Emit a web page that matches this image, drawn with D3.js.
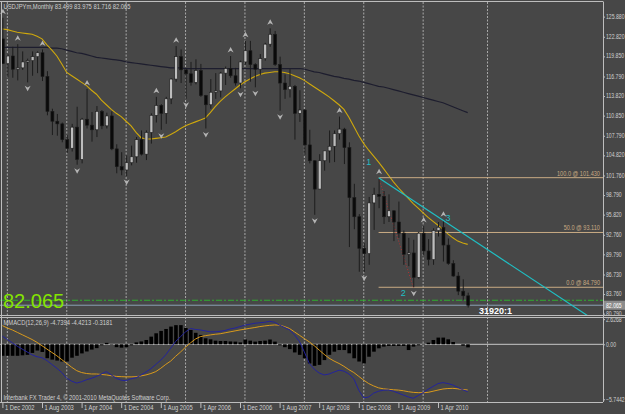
<!DOCTYPE html>
<html><head><meta charset="utf-8">
<script src="https://cdn.jsdelivr.net/npm/d3@7"></script>
<style>
body{margin:0;background:#474747;}
svg text{font-family:"Liberation Sans",Arial,sans-serif;}
</style></head><body>
<svg id="chart" width="625" height="414"></svg>
<script>
// USDJPYm monthly, Dec 2002 .. Oct 2010 (bar 0 = Dec 2002)
var opens = [122.50,
  118.75,119.90,117.90,118.10,119.00,119.20,119.80,120.40,116.80,111.50,110.00,109.60,
  107.20,105.90,109.10,104.20,110.30,109.40,108.70,111.50,109.30,110.80,105.80,103.10,
  102.60,103.70,104.60,107.20,105.00,108.30,110.90,112.40,111.20,113.40,116.40,119.80,
  117.80,117.20,115.90,117.70,113.90,112.50,114.40,114.60,117.30,118.00,116.90,115.80,
  119.00,120.70,118.60,117.90,119.50,121.70,123.20,118.60,115.80,114.80,115.30,111.20,
  111.70,106.40,104.00,99.70,104.00,105.50,106.20,108.10,108.80,106.00,98.40,95.50,
  90.70,89.90,97.60,98.90,98.60,95.50,96.40,94.70,93.00,89.80,90.00,86.30,
  93.00,90.30,89.00,93.40,93.90,91.20,88.40,86.50,84.20,83.499];
var highs = [125.70,
  120.20,121.30,121.70,120.60,119.50,120.60,120.60,120.90,117.60,111.90,111.10,109.80,
  107.90,109.60,112.20,110.50,114.90,111.40,112.30,111.70,111.30,111.50,106.50,105.30,
  104.80,106.30,107.60,108.60,108.60,111.20,113.70,112.60,113.70,116.50,121.40,120.90,
  118.00,119.00,119.40,118.70,114.00,116.40,117.30,117.50,118.30,119.90,118.10,119.20,
  122.20,122.20,118.80,120.20,121.90,124.10,123.70,119.80,117.10,117.90,115.50,114.70,
  111.80,108.70,104.10,105.00,105.50,108.60,108.60,110.70,109.00,106.80,100.50,95.90,
  91.50,98.50,99.90,101.43,99.40,98.90,96.50,97.80,93.40,92.30,92.00,93.20,
  94.10,92.10,93.75,94.70,94.98,92.20,88.90,87.10,86.00,83.975];
var lows = [118.70,
  116.65,116.60,116.20,117.80,115.90,116.90,117.30,116.10,110.90,107.90,107.80,106.80,
  105.20,105.40,103.40,103.60,108.90,106.90,107.60,108.80,108.90,105.60,102.10,101.80,
  101.68,103.30,103.70,104.80,104.10,106.60,109.80,108.70,109.60,112.60,116.00,115.80,
  113.40,115.40,115.60,113.70,108.90,111.90,113.40,113.60,115.50,116.60,115.40,115.00,
  118.60,116.00,115.15,117.00,119.20,121.30,118.40,111.60,113.40,113.60,107.20,109.90,
  104.90,103.60,95.80,99.70,102.50,103.70,103.80,107.20,103.50,90.90,93.60,87.15,
  87.10,88.20,93.50,96.80,94.40,94.70,91.80,92.30,88.20,88.00,84.80,86.10,
  89.60,88.10,88.20,92.50,88.70,88.20,86.40,83.60,82.90,81.716];
var closes = [118.75,
  119.90,117.90,118.10,119.00,119.20,119.80,120.40,116.80,111.50,110.00,109.60,107.20,
  105.90,109.10,104.20,110.30,109.40,108.70,111.50,109.30,110.80,105.80,103.10,102.60,
  103.70,104.60,107.20,105.00,108.30,110.90,112.40,111.20,113.40,116.40,119.80,117.80,
  117.20,115.90,117.70,113.90,112.50,114.40,114.60,117.30,118.00,116.90,115.80,119.00,
  120.70,118.60,117.90,119.50,121.70,123.20,118.60,115.80,114.80,115.30,111.20,111.70,
  106.40,104.00,99.70,104.00,105.50,106.20,108.10,108.80,106.00,98.40,95.50,90.70,
  89.90,97.60,98.90,98.60,95.50,96.40,94.70,93.00,89.80,90.00,86.30,93.00,
  90.30,89.00,93.40,93.90,91.20,88.40,86.50,84.20,83.50,82.065];

// moving averages
var maFast = [124.0,
  123.9,123.7,123.5,123.4,123.3,123.2,122.9,122.5,121.6,120.8,119.9,118.7,
  117.4,116.9,116.4,115.9,115.4,114.7,114.1,113.2,112.5,111.8,111.2,110.7,
  110.0,109.3,108.3,107.5,107.3,107.3,107.4,107.5,107.6,108.0,108.4,108.9,
  109.3,109.6,109.9,110.2,110.5,111.3,112.2,113.0,113.7,114.3,114.9,115.5,
  116.0,116.4,116.8,117.1,117.3,117.4,117.5,117.5,117.4,117.2,116.9,116.6,
  116.2,115.7,115.2,114.7,114.2,113.7,113.1,112.5,111.8,110.6,109.2,107.8,
  106.6,105.6,104.7,103.8,102.8,101.8,100.8,99.9,99.1,98.3,97.5,96.8,
  96.1,95.4,94.8,94.2,93.6,92.9,92.3,91.8,91.5,91.3];
var maSlow = [121.2,
  121.2,121.2,121.2,121.2,121.2,121.2,121.2,121.2,121.2,121.1,121.1,121.0,
  120.8,120.6,120.4,120.3,120.1,119.9,119.7,119.6,119.5,119.4,119.3,119.2,
  119.0,118.9,118.8,118.7,118.6,118.5,118.4,118.3,118.2,118.1,118.1,118.1,
  118.0,118.0,118.0,118.0,118.0,118.0,118.0,118.0,118.0,118.0,118.0,118.0,
  118.0,118.0,118.0,118.0,118.0,118.0,118.0,118.0,118.0,118.0,118.0,118.0,
  117.9,117.7,117.5,117.4,117.2,117.0,116.8,116.7,116.5,116.4,116.2,116.1,
  115.9,115.7,115.5,115.3,115.2,115.0,114.8,114.6,114.4,114.2,114.0,113.8,
  113.6,113.4,113.2,113.0,112.8,112.5,112.2,111.9,111.6,111.3];

// MMACD(12,26,9) window
var macdMain = [0.85,
  0.50,0.15,-0.20,-0.50,-0.80,-1.10,-1.30,-1.40,-1.70,-2.10,-2.50,-2.95,
  -3.55,-3.85,-4.05,-3.90,-3.70,-3.55,-3.35,-3.10,-2.85,-3.20,-3.55,-3.75,
  -3.80,-3.60,-3.50,-3.20,-2.90,-2.55,-2.10,-1.65,-1.10,-0.40,0.30,0.80,
  1.30,1.65,1.55,1.50,1.40,1.30,1.30,1.35,1.45,1.60,1.70,1.85,
  2.00,2.10,2.20,2.25,2.30,2.40,2.30,2.00,1.75,1.50,1.00,0.30,
  -0.80,-2.00,-2.60,-3.00,-3.20,-3.10,-2.90,-2.70,-2.80,-3.10,-3.60,-4.80,
  -5.60,-5.50,-5.10,-4.90,-4.80,-4.77,-4.90,-5.10,-5.30,-5.50,-5.64,-5.35,
  -5.05,-4.70,-4.40,-4.10,-4.00,-4.10,-4.25,-4.50,-4.75,-4.95];
var macdSignal = [1.95,
  1.70,1.50,1.25,1.00,0.75,0.50,0.20,-0.15,-0.50,-0.85,-1.20,-1.60,
  -2.00,-2.40,-2.75,-2.95,-3.05,-3.10,-3.10,-3.15,-3.20,-3.28,-3.35,-3.38,
  -3.40,-3.40,-3.38,-3.30,-3.20,-3.05,-2.85,-2.50,-2.10,-1.75,-1.25,-0.80,
  -0.30,0.15,0.55,0.80,0.90,0.98,1.05,1.10,1.20,1.30,1.40,1.50,
  1.58,1.67,1.75,1.85,1.92,1.98,2.02,2.00,1.85,1.65,1.30,0.95,
  0.60,0.25,-0.15,-0.60,-1.05,-1.45,-1.75,-2.00,-2.30,-2.65,-2.95,-3.35,
  -3.75,-4.10,-4.35,-4.55,-4.65,-4.70,-4.75,-4.78,-4.85,-4.95,-5.02,-5.05,
  -5.05,-5.02,-4.90,-4.78,-4.67,-4.62,-4.60,-4.65,-4.72,-4.77];
var macdHist = [-1.20,
  -1.20,-1.20,-1.20,-1.15,-1.10,-0.90,-0.65,-0.80,-1.45,-1.60,-1.70,-1.80,
  -1.80,-1.40,-1.20,-0.95,-0.75,-0.55,-0.40,-0.10,0.15,-0.05,-0.30,-0.35,
  -0.30,-0.10,0.20,0.30,0.45,0.80,1.15,1.40,1.60,1.85,2.00,2.00,
  1.70,1.50,1.20,0.98,0.63,0.52,0.38,0.35,0.35,0.30,0.28,0.20,
  0.50,0.38,0.28,0.35,0.38,0.50,0.28,-0.10,-0.30,-0.50,-0.85,-1.10,
  -1.45,-2.00,-2.25,-2.15,-1.65,-1.10,-0.77,-0.60,-0.60,-0.94,-1.46,-1.80,
  -2.00,-1.30,-0.77,-0.42,-0.24,-0.17,-0.17,-0.17,-0.17,-0.60,-0.24,-0.10,
  -0.05,0.17,0.45,0.70,0.70,0.52,0.24,0.00,-0.14,-0.32];

var fractalUp = [0, 3, 8, 17, 31, 35, 46, 49, 54, 68, 76, 85, 89];
var fractalDown = [5, 15, 25, 32, 37, 41, 48, 51, 56, 63, 73, 83];

var priceTicks = [125.88,122.82,119.85,116.79,113.82,110.85,107.79,104.82,101.76,98.79,95.82,92.76,89.79,86.73,83.76,80.79];
var dateBars = [0, 8, 16, 24, 32, 40, 48, 56, 64, 72, 80, 88];
var dateLabels = ["1 Dec 2002","1 Aug 2003","1 Apr 2004","1 Dec 2004","1 Aug 2005","1 Apr 2006",
  "1 Dec 2006","1 Aug 2007","1 Apr 2008","1 Dec 2008","1 Aug 2009","1 Apr 2010"];
var gridBars = [1, 13, 25, 37, 49, 61, 73, 85, 98];

var fibLevels = [101.43, 93.11, 84.79];
var fibLabels = ["100.0 @ 101.430", "50.0 @ 93.110", "0.0 @ 84.790"];
var fibFrom = 76, fibTo = 83;
var trendBars = [76, 89], trendPrices = [101.43, 94.98];
var waveLabels = [{t:"1", bar:74, p:103.3}, {t:"2", bar:81, p:83.4}, {t:"3", bar:90, p:94.9}];
var bidPrice = 82.065, greenLevel = 82.82;
var macdTicks = [2.6268, 0, -5.7442];

var svg = d3.select("#chart");
var axisX = 603, priceTop = 2, priceBot = 315, macdTop = 318, macdBot = 402;
var txt = "#d0d0d0", frame = "#bdbdbd";
var narrow = 0.8;

var x = d3.scaleLinear().domain([0, 94]).range([2.4, 467.7]);
var y = d3.scaleLinear().domain([80.43, 128.10]).range([316, 2]);
var ym = d3.scaleLinear().domain([-5.7442, 0]).range([399.3, 344.3]);

// narrow the small MT4 font horizontally
function squeeze(sel, k) {
  sel.each(function () {
    var t = d3.select(this);
    var x0 = +t.attr("x") || 0;
    var anchor = t.attr("text-anchor") || "start";
    t.attr("x", x0 / k).attr("transform", `scale(${k},1)`);
  });
}

svg.append("rect").attr("width", 625).attr("height", 414).attr("fill", "#474747");

var defs = svg.append("defs");
defs.append("clipPath").attr("id", "pclip").append("rect")
  .attr("x", 0).attr("y", priceTop).attr("width", axisX).attr("height", priceBot - priceTop);

// year grid
svg.append("g").selectAll("line").data(gridBars).join("line")
  .attr("x1", d => x(d)).attr("x2", d => x(d))
  .attr("y1", priceTop).attr("y2", macdBot)
  .attr("stroke", "#a9a9a9").attr("stroke-width", 1).attr("stroke-dasharray", "2,1.5");

var pg = svg.append("g").attr("clip-path", "url(#pclip)");

// moving averages
var maLine = d3.line().x((d, i) => x(i)).y(d => y(d));
pg.append("path").attr("d", maLine(maSlow)).attr("fill", "none").attr("stroke", "#1d1d2e").attr("stroke-width", 1.2);
pg.append("path").attr("d", maLine(maFast)).attr("fill", "none").attr("stroke", "#cfa80c").attr("stroke-width", 1.1);

// fibonacci
pg.selectAll(".fib").data(fibLevels).join("line").attr("class", "fib")
  .attr("x1", x(fibFrom)).attr("x2", axisX).attr("y1", d => y(d)).attr("y2", d => y(d))
  .attr("stroke", "#c9ab84").attr("stroke-width", 1);
pg.selectAll(".fibt").data(fibLevels).join("text").attr("class", "fibt")
  .attr("x", axisX - 3).attr("y", d => y(d) - 2).attr("text-anchor", "end")
  .attr("font-size", 7).attr("fill", "#c9ab84").text((d, i) => fibLabels[i])
  .call(squeeze, narrow);
pg.append("line").attr("x1", x(fibFrom)).attr("y1", y(highs[fibFrom]))
  .attr("x2", x(fibTo)).attr("y2", y(lows[fibTo]))
  .attr("stroke", "#b83030").attr("stroke-width", 1).attr("stroke-dasharray", "1,2");

// horizontal levels
pg.append("line").attr("x1", 0).attr("x2", axisX).attr("y1", y(greenLevel)).attr("y2", y(greenLevel))
  .attr("stroke", "#2fae2f").attr("stroke-width", 1).attr("stroke-dasharray", "6,2,2,2");
pg.append("line").attr("x1", 0).attr("x2", axisX).attr("y1", y(bidPrice)).attr("y2", y(bidPrice))
  .attr("stroke", "#8aa0b4").attr("stroke-width", 1);

// candles
var bw = 3;
var cg = pg.append("g");
cg.selectAll(".wick").data(opens).join("line").attr("class", "wick")
  .attr("x1", (d, i) => x(i) + 0.5).attr("x2", (d, i) => x(i) + 0.5)
  .attr("y1", (d, i) => y(highs[i])).attr("y2", (d, i) => y(lows[i]))
  .attr("stroke", "#1c1c1c").attr("stroke-width", 1);
cg.selectAll(".body").data(opens).join("rect").attr("class", "body")
  .attr("x", (d, i) => x(i) - bw / 2 + 0.5)
  .attr("y", (d, i) => y(Math.max(d, closes[i])))
  .attr("width", bw)
  .attr("height", (d, i) => Math.max(1, Math.abs(y(d) - y(closes[i]))))
  .attr("fill", (d, i) => closes[i] >= d ? "#bdbdbd" : "#0a0a0a")
  .attr("stroke", "#1c1c1c").attr("stroke-width", 0.6);

// fractals
pg.selectAll(".fu").data(fractalUp).join("path").attr("class", "fu")
  .attr("transform", d => `translate(${x(d) + 0.5},${y(highs[d]) - 6})`)
  .attr("d", "M0,-3L3,2.5L0,0.8L-3,2.5Z").attr("fill", "#b4b4b4");
pg.selectAll(".fd").data(fractalDown).join("path").attr("class", "fd")
  .attr("transform", d => `translate(${x(d) + 0.5},${y(lows[d]) + 6})`)
  .attr("d", "M0,3L3,-2.5L0,-0.8L-3,-2.5Z").attr("fill", "#b4b4b4");

// trend line (ray)
var slope = (trendPrices[1] - trendPrices[0]) / (trendBars[1] - trendBars[0]);
pg.append("line").attr("x1", x(trendBars[0])).attr("y1", y(trendPrices[0]))
  .attr("x2", x(140)).attr("y2", y(trendPrices[0] + slope * (140 - trendBars[0])))
  .attr("stroke", "#1fbfc4").attr("stroke-width", 1.2);
pg.selectAll(".wave").data(waveLabels).join("text").attr("class", "wave")
  .attr("x", d => x(d.bar)).attr("y", d => y(d.p)).attr("text-anchor", "middle")
  .attr("font-size", 9).attr("fill", "#1fbfc4").text(d => d.t);

// big price text and counter
svg.append("text").attr("x", 3).attr("y", 308).attr("font-size", 20)
  .attr("fill", "#84e400").text(d3.format(".3f")(bidPrice));
svg.append("text").attr("x", 479).attr("y", 313.5).attr("font-size", 9).attr("font-weight", "bold")
  .attr("fill", "#ffffff").text("31920:1");

// title
svg.append("text").attr("x", 3.5).attr("y", 9).attr("font-size", 7).attr("fill", txt)
  .text("USDJPYm,Monthly  83.499 83.975 81.716 82.065").call(squeeze, 0.83);

// price axis
var pAxis = svg.append("g").attr("transform", `translate(${axisX},0)`)
  .call(d3.axisRight(y).tickValues(priceTicks).tickFormat(d3.format(".3f")).tickSize(2).tickPadding(1));
pAxis.select(".domain").remove();
pAxis.selectAll("line").attr("stroke", frame);
pAxis.selectAll("text").attr("fill", txt).attr("font-size", 6.6).attr("dy", "0.25em")
  .call(squeeze, 0.78);

// bid box on axis
svg.append("rect").attr("x", axisX + 1).attr("y", y(bidPrice) - 4.5).attr("width", 21).attr("height", 9)
  .attr("fill", "#8c8c8c");
svg.append("text").attr("x", axisX + 3).attr("y", y(bidPrice) + 2.5).attr("font-size", 6.6)
  .attr("fill", "#ffffff").text(d3.format(".3f")(bidPrice)).call(squeeze, 0.78);

// macd window
var mg = svg.append("g");
mg.append("line").attr("x1", 0).attr("x2", axisX).attr("y1", ym(0)).attr("y2", ym(0))
  .attr("stroke", "#c8c8c8").attr("stroke-width", 1);
mg.selectAll(".hb").data(macdHist).join("rect").attr("class", "hb")
  .attr("x", (d, i) => x(i) - 1.5)
  .attr("y", d => Math.min(ym(0), ym(d)))
  .attr("width", 3.6)
  .attr("height", d => Math.abs(ym(d) - ym(0)))
  .attr("fill", "#000");
mg.append("path").attr("d", d3.line().x((d, i) => x(i)).y(d => ym(d))(macdSignal))
  .attr("fill", "none").attr("stroke", "#d99a1c").attr("stroke-width", 1);
mg.append("path").attr("d", d3.line().x((d, i) => x(i)).y(d => ym(d))(macdMain))
  .attr("fill", "none").attr("stroke", "#23239c").attr("stroke-width", 1);

mg.append("text").attr("x", 3.5).attr("y", 325.5).attr("font-size", 7).attr("fill", txt)
  .text("MMACD(12,26,9) -4.7394 -4.4213 -0.3181").call(squeeze, 0.83);
mg.append("text").attr("x", 3.5).attr("y", 400.5).attr("font-size", 7).attr("fill", txt)
  .text("Interbank FX Trader 4, \u00a9 2001-2010 MetaQuotes Software Corp.").call(squeeze, 0.83);

var mAxis = svg.append("g").attr("transform", `translate(${axisX},0)`)
  .call(d3.axisRight(ym).tickValues(macdTicks).tickFormat(d => d === 0 ? "0.00" : d3.format(".4f")(d)).tickSize(2).tickPadding(1));
mAxis.select(".domain").remove();
mAxis.selectAll("line").attr("stroke", frame);
mAxis.selectAll("text").attr("fill", txt).attr("font-size", 6.6).attr("dy", "0.3em").call(squeeze, 0.78);

// frame
var fr = svg.append("g").attr("stroke", frame).attr("fill", "none");
fr.append("line").attr("x1", 0).attr("x2", axisX).attr("y1", 1.5).attr("y2", 1.5);
fr.append("line").attr("x1", 1.5).attr("x2", 1.5).attr("y1", 1.5).attr("y2", macdBot);
fr.append("line").attr("x1", axisX + 0.5).attr("x2", axisX + 0.5).attr("y1", 1.5).attr("y2", macdBot);
fr.append("line").attr("x1", 0).attr("x2", 625).attr("y1", priceBot + 0.5).attr("y2", priceBot + 0.5);
fr.append("line").attr("x1", 0).attr("x2", 625).attr("y1", macdTop - 0.5).attr("y2", macdTop - 0.5);
fr.append("line").attr("x1", 0).attr("x2", axisX).attr("y1", macdBot + 0.5).attr("y2", macdBot + 0.5);

// date axis
var dAxis = svg.append("g").attr("transform", `translate(0,${macdBot + 1})`)
  .call(d3.axisBottom(x).tickValues(dateBars).tickFormat((d, i) => dateLabels[i]).tickSize(5).tickPadding(0));
dAxis.select(".domain").remove();
dAxis.selectAll("line").attr("stroke", frame);
dAxis.selectAll("text").attr("fill", txt).attr("font-size", 7).attr("text-anchor", "start")
  .attr("x", 2).attr("y", 2).attr("dy", "0.71em").call(squeeze, 0.83);
</script>
</body></html>
